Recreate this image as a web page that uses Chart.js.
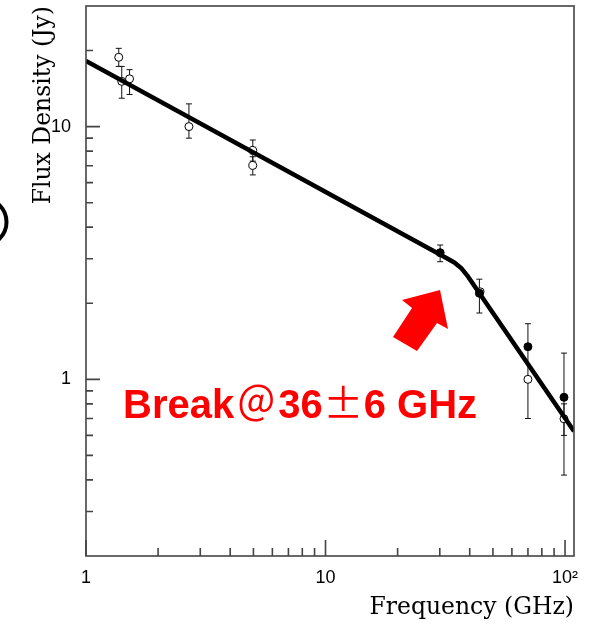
<!DOCTYPE html>
<html>
<head>
<meta charset="utf-8">
<script src="https://cdn.jsdelivr.net/npm/chart.js@4.4.0/dist/chart.umd.min.js"></script>
<style>
  html, body { margin: 0; padding: 0; background: #fff; overflow: hidden; }
  #wrap { width: 593px; height: 625px; position: relative; }
</style>
</head>
<body>
<div id="wrap"><canvas id="sedChart"></canvas></div>
<script>
// open circles (with error bars)
const openFreq    = [1.37, 1.41, 1.52, 2.69, 4.97, 4.97, 44.2, 70, 99];
const openFlux    = [18.8, 15.1, 15.45, 10.0, 8.05, 7.02, 2.22, 1.0, 0.698];
const openErrLow  = [17.3, 12.95, 13.4, 9.0, 7.3, 6.44, 2.22, 0.70, 0.418];
const openErrHigh = [20.4, 17.3, 16.8, 12.3, 8.85, 7.6, 2.22, 1.346, 0.80];

// filled circles
const filledFreq    = [30.1, 43.9, 70, 99];
const filledFlux    = [3.17, 2.19, 1.346, 0.849];
const filledErrLow  = [2.92, 1.83, 1.346, 0.60];
const filledErrHigh = [3.40, 2.49, 1.66, 1.27];

// broken power-law fit
const fitFreq = [1, 31, 34.5, 36.8, 39, 109];
const fitFlux = [18.2, 3.07, 2.90, 2.76, 2.58, 0.623];

// axes
const xTickValues = [1, 10, 100];
const yTickValues = [1, 10];
const xMinorTicks = [2, 3, 4, 5, 6, 7, 8, 9, 20, 30, 40, 50, 60, 70, 80, 90];
const yMinorTicks = [0.3, 0.4, 0.5, 0.6, 0.7, 0.8, 0.9, 2, 3, 4, 5, 6, 7, 8, 9, 20];

const sansFont = '"Liberation Sans", Arial, Helvetica, sans-serif';
const serifFont = '"DejaVu Serif", "Liberation Serif", serif';

function toPoints(xs, ys) {
    return xs.map((x, i) => ({ x: x, y: ys[i] }));
}

// error bars, drawn under the markers
const errorBars = {
    id: 'errorBars',
    beforeDatasetsDraw(chart) {
        const { ctx, scales: { x, y } } = chart;
        const sets = [
            [openFreq, openErrLow, openErrHigh],
            [filledFreq, filledErrLow, filledErrHigh]
        ];
        ctx.save();
        ctx.strokeStyle = '#111';
        ctx.lineWidth = 1;
        sets.forEach(([fx, lo, hi]) => {
            fx.forEach((f, i) => {
                const px = x.getPixelForValue(f);
                const y1 = y.getPixelForValue(lo[i]);
                const y2 = y.getPixelForValue(hi[i]);
                ctx.beginPath();
                ctx.moveTo(px, y1);
                ctx.lineTo(px, y2);
                ctx.moveTo(px - 3, y1);
                ctx.lineTo(px + 3, y1);
                ctx.moveTo(px - 3, y2);
                ctx.lineTo(px + 3, y2);
                ctx.stroke();
            });
        });
        ctx.restore();
    }
};

// frame, inward ticks, annotation
const decorations = {
    id: 'decorations',
    afterDraw(chart) {
        const { ctx, chartArea: a, scales: { x, y } } = chart;
        ctx.save();

        // frame
        ctx.strokeStyle = '#444';
        ctx.lineWidth = 1.6;
        ctx.strokeRect(a.left, a.top, a.right - a.left, a.bottom - a.top);

        // ticks pointing into the plot
        ctx.beginPath();
        yTickValues.forEach(v => {
            const py = y.getPixelForValue(v);
            ctx.moveTo(a.left, py); ctx.lineTo(a.left + 14, py);
        });
        yMinorTicks.forEach(v => {
            const py = y.getPixelForValue(v);
            ctx.moveTo(a.left, py); ctx.lineTo(a.left + 7, py);
        });
        xTickValues.forEach(v => {
            const px = x.getPixelForValue(v);
            ctx.moveTo(px, a.bottom); ctx.lineTo(px, a.bottom - 16);
        });
        xMinorTicks.forEach(v => {
            const px = x.getPixelForValue(v);
            ctx.moveTo(px, a.bottom); ctx.lineTo(px, a.bottom - 8);
        });
        ctx.stroke();

        // red arrow
        const ax = a.left, ay = a.top;
        ctx.fillStyle = '#ff0000';
        ctx.beginPath();
        ctx.moveTo(ax + 354, ay + 284);
        ctx.lineTo(ax + 362, ay + 323);
        ctx.lineTo(ax + 351, ay + 317);
        ctx.lineTo(ax + 331, ay + 345);
        ctx.lineTo(ax + 307, ay + 331);
        ctx.lineTo(ax + 326, ay + 302);
        ctx.lineTo(ax + 316, ay + 294);
        ctx.closePath();
        ctx.fill();

        // "Break@36±6 GHz"
        const bold = 'bold 40px ' + sansFont;
        const cjk = '40px "Noto Sans CJK JP", "Noto Sans CJK SC", sans-serif';
        const parts = [
            ['Break', bold, 0],
            ['＠', cjk, 44],
            ['36', bold, 0],
            ['±', cjk, 41],
            ['6 GHz', bold, 0]
        ];
        let tx = ax + 37;
        const ty = ay + 412;
        ctx.textBaseline = 'alphabetic';
        parts.forEach(([t, f, slot]) => {
            ctx.font = f;
            if (slot) {
                ctx.textAlign = 'center';
                ctx.fillText(t, tx + slot / 2, ty);
                tx += slot;
            } else {
                ctx.textAlign = 'left';
                ctx.fillText(t, tx, ty);
                tx += ctx.measureText(t).width;
            }
        });

        // cut-off ring at the left edge
        ctx.strokeStyle = '#000';
        ctx.lineWidth = 4;
        ctx.beginPath();
        ctx.arc(-17, 222, 23.5, 0, Math.PI * 2);
        ctx.stroke();

        ctx.restore();
    }
};

const ctx = document.getElementById('sedChart').getContext('2d');
const sedChart = new Chart(ctx, {
    type: 'scatter',
    data: {
        datasets: [
            {
                type: 'line',
                label: 'fit',
                data: toPoints(fitFreq, fitFlux),
                borderColor: '#000',
                borderWidth: 4.5,
                pointRadius: 0,
                fill: false,
                tension: 0,
                borderJoinStyle: 'round',
                order: 0
            },
            {
                label: 'filled',
                data: toPoints(filledFreq, filledFlux),
                pointRadius: 4,
                pointBackgroundColor: '#000',
                pointBorderColor: '#000',
                pointBorderWidth: 1,
                order: 1
            },
            {
                label: 'open',
                data: toPoints(openFreq, openFlux),
                pointRadius: 4,
                pointBackgroundColor: '#fff',
                pointBorderColor: '#000',
                pointBorderWidth: 1,
                order: 2
            }
        ]
    },
    options: {
        responsive: true,
        maintainAspectRatio: false,
        animation: false,
        layout: { padding: { top: 6, right: 19, left: 0, bottom: 0 } },
        plugins: {
            legend: { display: false },
            tooltip: { enabled: false }
        },
        scales: {
            x: {
                type: 'logarithmic',
                position: 'bottom',
                min: 1,
                max: 109,
                grid: { display: false },
                border: { display: false },
                afterBuildTicks: s => { s.ticks = xTickValues.map(v => ({ value: v })); },
                afterFit: s => { s.height = 69; s.paddingLeft = 0; s.paddingRight = 0; },
                ticks: {
                    autoSkip: false,
                    maxRotation: 0,
                    padding: 3,
                    color: '#000',
                    font: { family: sansFont, size: 18 },
                    callback: v => (v === 100 ? '10²' : String(v))
                },
                title: {
                    display: true,
                    text: 'Frequency (GHz)',
                    align: 'end',
                    color: '#000',
                    font: { family: serifFont, size: 23.5 },
                    padding: { top: 0, bottom: 3 }
                }
            },
            y: {
                type: 'logarithmic',
                min: 0.2,
                max: 30,
                grid: { display: false },
                border: { display: false },
                afterBuildTicks: s => { s.ticks = yTickValues.map(v => ({ value: v })); },
                afterFit: s => { s.width = 86; s.paddingTop = 0; s.paddingBottom = 0; },
                ticks: {
                    autoSkip: false,
                    padding: 7,
                    color: '#000',
                    font: { family: sansFont, size: 18 },
                    callback: v => String(v)
                },
                title: {
                    display: true,
                    text: 'Flux Density (Jy)',
                    align: 'end',
                    color: '#000',
                    font: { family: serifFont, size: 23.5 },
                    padding: { top: 30, bottom: 0 }
                }
            }
        }
    },
    plugins: [errorBars, decorations]
});
</script>
</body>
</html>
